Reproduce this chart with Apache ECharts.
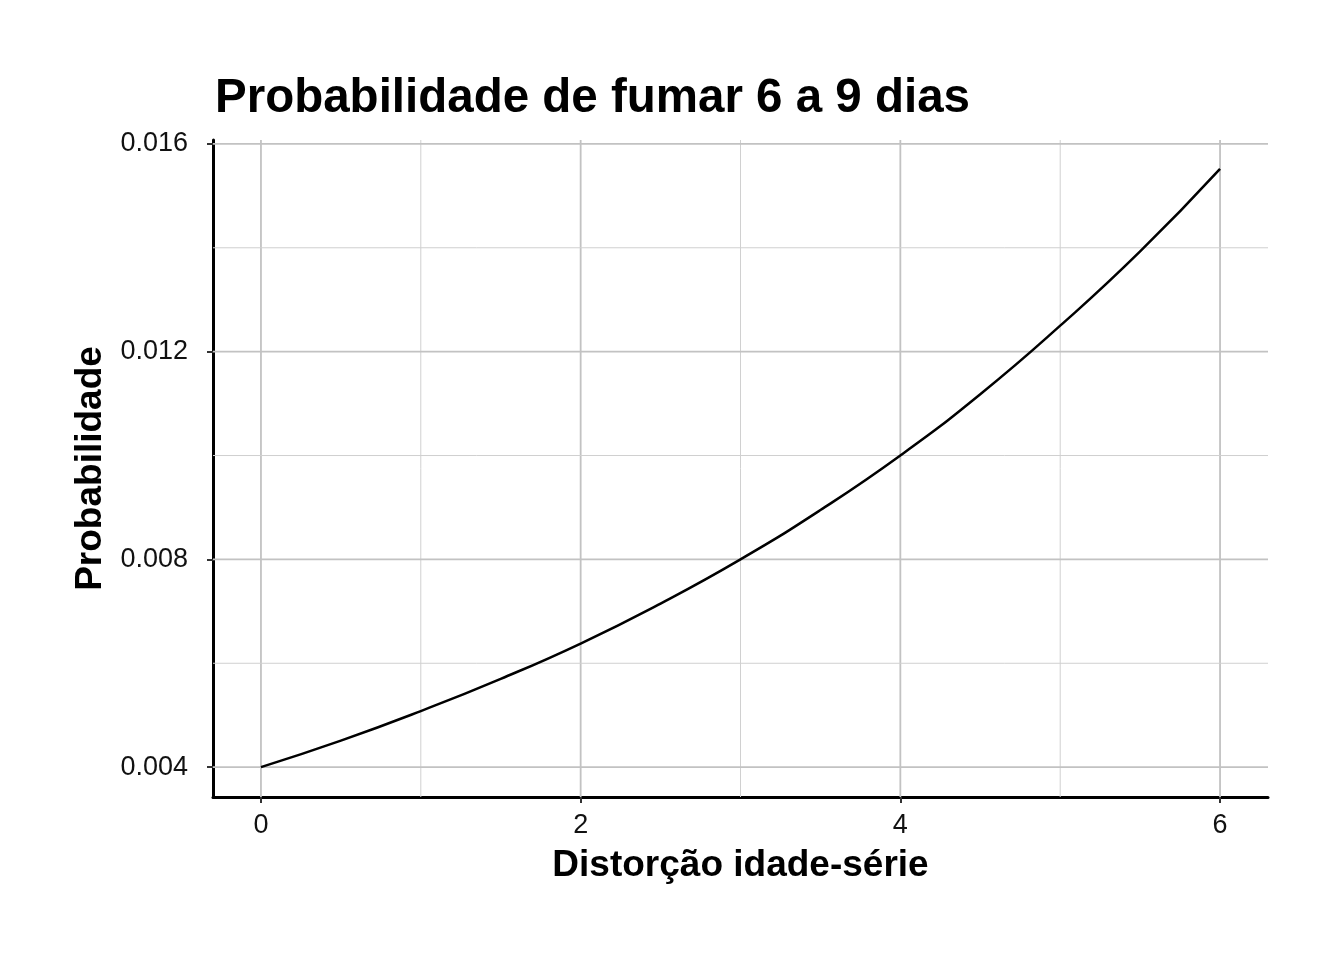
<!DOCTYPE html>
<html>
<head>
<meta charset="utf-8">
<script src="https://cdn.jsdelivr.net/npm/echarts@6/dist/echarts.min.js"></script>
<style>html,body{margin:0;padding:0;background:#fff;}#chart{width:1344px;height:960px;}</style>
</head>
<body>
<div id="chart"></div>
<script>
const xValues = [0, 0.5, 1, 1.5, 2, 2.5, 3, 3.5, 4, 4.5, 5, 5.5, 6];
const probValues = [0.00400, 0.00451, 0.00508, 0.00570, 0.00638, 0.00715, 0.00800, 0.00895, 0.01000, 0.01118, 0.01250, 0.01393, 0.01552];
const xMajorTicks = [0, 2, 4, 6];
const xMinorTicks = [1, 3, 5];
const yMajorTicks = [0.004, 0.008, 0.012, 0.016];
const yMinorTicks = [0.006, 0.010, 0.014];
const xRange = [-0.3, 6.3];
const yRange = [0.003425, 0.016075];

const FONT = '"Liberation Sans", Arial, Helvetica, sans-serif';
const chart = echarts.init(document.getElementById('chart'), null, {renderer: 'canvas'});

const MAJOR = {color: '#c2c2c2', width: 1.8};
const MINOR = {color: '#d0d0d0', width: 1};
const gridSeries = [];
function addGrid(points, style) {
  gridSeries.push({
    type: 'line', data: points, z: 1, silent: true, symbol: 'none', showSymbol: false,
    lineStyle: {color: style.color, width: style.width}, emphasis: {disabled: true}
  });
}
xMajorTicks.forEach(v => addGrid([[v, yRange[0]], [v, yRange[1]]], MAJOR));
xMinorTicks.forEach(v => addGrid([[v, yRange[0]], [v, yRange[1]]], MINOR));
yMajorTicks.forEach(v => addGrid([[xRange[0], v], [xRange[1], v]], MAJOR));
yMinorTicks.forEach(v => addGrid([[xRange[0], v], [xRange[1], v]], MINOR));

chart.setOption({
  animation: false,
  backgroundColor: '#ffffff',
  title: {
    text: 'Probabilidade de fumar 6 a 9 dias',
    left: 210,
    top: 70,
    textStyle: {fontFamily: FONT, fontWeight: 'bold', fontSize: 47.5, color: '#000'}
  },
  grid: {left: 213, top: 140, width: 1055, height: 657, containLabel: false},
  xAxis: {
    type: 'value',
    min: xRange[0],
    max: xRange[1],
    name: 'Distorção idade-série',
    nameLocation: 'middle',
    nameGap: 50,
    nameTextStyle: {fontFamily: FONT, fontWeight: 'bold', fontSize: 37, color: '#000', verticalAlign: 'top'},
    axisLine: {show: true, onZero: false, lineStyle: {color: '#000', width: 3}},
    axisTick: {show: true, customValues: xMajorTicks, length: 6, lineStyle: {color: '#333', width: 2}},
    axisLabel: {customValues: xMajorTicks, fontFamily: FONT, fontSize: 27, color: '#111', margin: 15,
      formatter: v => String(v)},
    splitLine: {show: false}
  },
  yAxis: {
    type: 'value',
    min: yRange[0],
    max: yRange[1],
    name: 'Probabilidade',
    nameLocation: 'middle',
    nameGap: 99,
    nameRotate: 90,
    nameTextStyle: {fontFamily: FONT, fontWeight: 'bold', fontSize: 37, color: '#000'},
    axisLine: {show: true, onZero: false, lineStyle: {color: '#000', width: 3}},
    axisTick: {show: true, customValues: yMajorTicks, length: 6, lineStyle: {color: '#333', width: 2}},
    axisLabel: {customValues: yMajorTicks, fontFamily: FONT, fontSize: 27, color: '#111', margin: 25,
      formatter: v => v.toFixed(3)},
    splitLine: {show: false}
  },
  series: gridSeries.concat([
    {
      type: 'line',
      z: 5,
      data: xValues.map((x, i) => [x, probValues[i]]),
      smooth: true,
      showSymbol: false,
      symbol: 'none',
      lineStyle: {color: '#000', width: 2.5}
    }
  ])
});
</script>
</body>
</html>
